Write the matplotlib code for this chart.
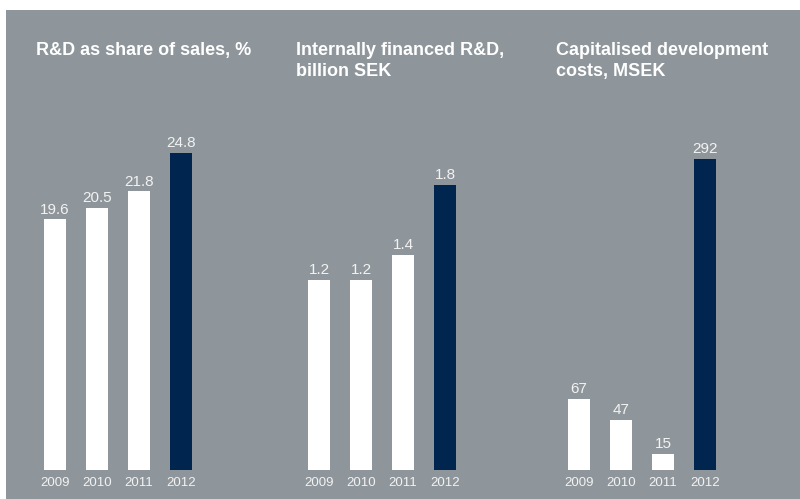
import matplotlib.pyplot as plt
from matplotlib.patches import Rectangle

plt.rcParams['font.family'] = ['Liberation Sans', 'DejaVu Sans']

years = ['2009', '2010', '2011', '2012']
titles = ['R&D as share of sales, %',
          'Internally financed R&D,\nbillion SEK',
          'Capitalised development\ncosts, MSEK']
# bar heights as drawn in the picture (labels are the rounded figures)
share_of_sales = [19.6, 20.5, 21.8, 24.8]
internal_rd = [1.2, 1.2, 1.36, 1.8]
capitalised = [67, 47, 15, 292]
series = [share_of_sales, internal_rd, capitalised]
labels = [['19.6', '20.5', '21.8', '24.8'],
          ['1.2', '1.2', '1.4', '1.8'],
          ['67', '47', '15', '292']]

bg = '#8e969b'
navy = '#00264f'
W, H = 800, 499

fig = plt.figure(figsize=(W / 100, H / 100), dpi=100)
fig.patch.set_facecolor('white')
fig.patches.append(Rectangle((6 / W, 0), 1 - 6 / W, (H - 10) / H,
                             transform=fig.transFigure, facecolor=bg,
                             edgecolor='none', zorder=-5))

# pixel layout for each panel: axes left edge, top of tallest bar
lefts = [34, 298, 558]
max_tops = [153, 185, 159]
title_x = [36, 296, 556]
base_px, top_px = 470, 130

for i in range(3):
    vals = series[i]
    ax = fig.add_axes([lefts[i] / W, (H - base_px) / H, 168 / W,
                       (base_px - top_px) / H])
    ax.set_facecolor('none')
    colors = ['white'] * 3 + [navy]
    ax.bar(range(4), vals, width=22 / 42, color=colors)
    ax.set_xlim(-0.5, 3.5)
    ymax = max(vals) * (base_px - top_px) / (base_px - max_tops[i])
    ax.set_ylim(0, ymax)
    for j, v in enumerate(vals):
        ax.annotate(labels[i][j], (j, v), xytext=(0, 2),
                    textcoords='offset points', ha='center', va='bottom',
                    color='#f2f2f2', fontsize=11)
    ax.set_xticks(range(4))
    ax.set_xticklabels(years)
    ax.tick_params(axis='x', length=0, pad=5, labelsize=9.5, colors='#f2f2f2')
    ax.set_yticks([])
    for s in ax.spines.values():
        s.set_visible(False)
    fig.text(title_x[i] / W, 1 - 42 / H, titles[i], ha='left', va='top',
             color='white', fontsize=13, fontweight='bold', linespacing=1.3)

fig.savefig('out.png', dpi=100, facecolor=fig.get_facecolor())
